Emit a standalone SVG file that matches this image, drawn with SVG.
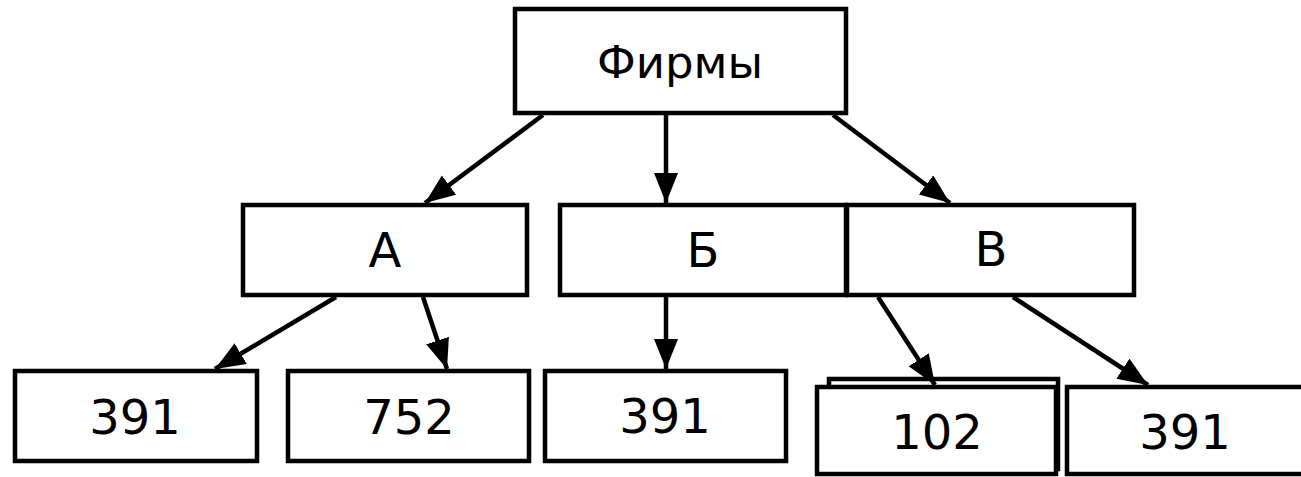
<svg xmlns="http://www.w3.org/2000/svg" width="1301" height="477" viewBox="0 0 1301 477">
<style>
.box{fill:#fff;stroke:#000;stroke-width:4.5}
.lbl{font-family:"DejaVu Sans",Verdana,sans-serif;font-size:48px;fill:#000;text-anchor:middle}
.top{font-size:45px}
.con{stroke:#000;stroke-width:4.5;fill:none;marker-end:url(#arr)}
</style>
<defs>
<marker id="arr" markerUnits="userSpaceOnUse" markerWidth="32" markerHeight="26" refX="30" refY="12" orient="auto">
<path d="M0,0 L30,12 L0,24 z" fill="#000"/>
</marker>
</defs>
<rect width="1301" height="477" fill="#fff"/>
<g id="firms"><rect class="box" x="515" y="9" width="331" height="104"/><text class="lbl top" x="680" y="78">Фирмы</text></g>
<g id="a"><rect class="box" x="243" y="205" width="284" height="90"/><text class="lbl" x="385" y="267">А</text></g>
<g id="b"><rect class="box" x="560" y="205" width="286" height="90"/><text class="lbl" x="703" y="267">Б</text></g>
<g id="v"><rect class="box" x="847" y="205" width="287" height="90"/><text class="lbl" x="991" y="266">В</text></g>
<g id="a391"><rect class="box" x="15" y="371" width="242" height="90"/><text class="lbl" x="135" y="434">391</text></g>
<g id="a752"><rect class="box" x="288" y="371" width="241" height="90"/><text class="lbl" x="409" y="434">752</text></g>
<g id="b391"><rect class="box" x="545" y="371" width="241" height="90"/><text class="lbl" x="665" y="433">391</text></g>
<g id="v102"><rect class="box" x="829" y="379" width="229" height="90"/><rect class="box" x="817" y="387" width="239" height="87"/><text class="lbl" x="937" y="449">102</text></g>
<g id="v391"><rect class="box" x="1067" y="387" width="245" height="87"/><text class="lbl" x="1185" y="449">391</text></g>
<g id="connectors">
<line class="con" x1="543" y1="115" x2="425" y2="203"/>
<line class="con" x1="666" y1="115" x2="666" y2="203"/>
<line class="con" x1="833" y1="115" x2="950" y2="203"/>
<line class="con" x1="336" y1="297" x2="215" y2="369"/>
<line class="con" x1="423" y1="297" x2="447" y2="369"/>
<line class="con" x1="666" y1="297" x2="666" y2="369"/>
<line class="con" x1="878" y1="297" x2="935" y2="385"/>
<line class="con" x1="1013" y1="297" x2="1148" y2="385"/>
</g>
</svg>
